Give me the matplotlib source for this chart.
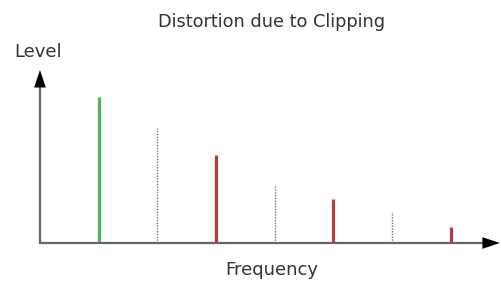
import numpy as np
import matplotlib.pyplot as plt

# harmonic number and relative level (fundamental = 100)
harmonics = [1, 2, 3, 4, 5, 6, 7]
levels = [100, 79, 60, 40, 30, 21, 11]
kinds = ['fund', 'even', 'odd', 'even', 'odd', 'even', 'odd']

styles = {
    'fund': dict(color='#55b455', lw=2.3, ls='-'),
    'odd': dict(color='#b03c3c', lw=2.3, ls='-'),
    'even': dict(color='#777777', lw=1.0, ls=(0, (1, 1))),
}

fig = plt.figure(figsize=(5.01, 2.82), dpi=100)
ax = fig.add_axes([0.0798, 0.1383, 0.918, 0.6135])
ax.set_xlim(0, 7.84)
ax.set_ylim(0, 118.5)
ax.axis('off')

for h, lv, k in zip(harmonics, levels, kinds):
    ax.vlines(h, 0, lv, **styles[k])

# axes drawn as gray lines with black arrow heads
for tip in [(1, 0), (0, 1)]:
    ax.annotate('', xy=tip, xytext=(0, 0), xycoords='axes fraction',
                arrowprops=dict(arrowstyle='-', color='#666666', lw=1.6,
                                shrinkA=0, shrinkB=6))
    ax.annotate('', xy=tip, xytext=(0, 0), xycoords='axes fraction',
                arrowprops=dict(arrowstyle='-|>,head_width=0.3,head_length=0.9',
                                color='black', lw=0, shrinkA=0, shrinkB=0,
                                mutation_scale=14))

fig.text(272 / 501, 1 - 22 / 282, 'Distortion due to Clipping', ha='center', va='center',
         fontsize=12.8, color='#333333')
fig.text(38 / 501, 1 - 52 / 282, 'Level', ha='center', va='center',
         fontsize=13, color='#333333')
fig.text(272 / 501, 1 - 270 / 282, 'Frequency', ha='center', va='center',
         fontsize=13, color='#333333')

fig.savefig('out.png', dpi=100)
